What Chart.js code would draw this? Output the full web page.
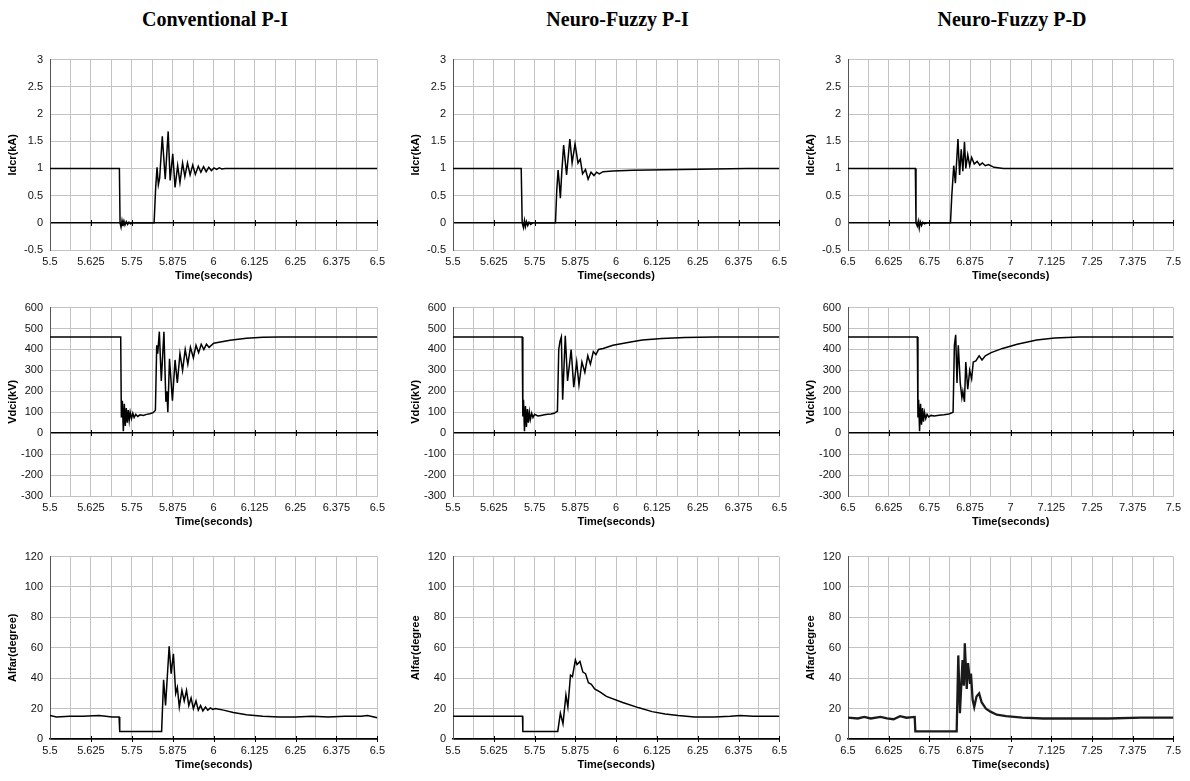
<!DOCTYPE html>
<html lang="en">
  <head>
    <meta charset="UTF-8" />
    <title>Idcr / Vdci / Alfar comparison</title>
    <script src="https://cdn.jsdelivr.net/npm/chart.js"></script>
    <style>
      body { margin: 0; background: #fff; width: 1190px; height: 781px; position: relative; overflow: hidden; }
      .colTitle { position: absolute; top: 8px; text-align: center; font: bold 20px "Liberation Serif", "Times New Roman", serif; color: #000; }
      canvas { position: absolute; }
    </style>
  </head>
  <body>
    <script>
      // column headings and axis labels
      const colTitles = ["Conventional P-I", "Neuro-Fuzzy P-I", "Neuro-Fuzzy P-D"];
      const timeLabelsA = ["5.5", "5.625", "5.75", "5.875", "6", "6.125", "6.25", "6.375", "6.5"];
      const timeLabelsB = ["6.5", "6.625", "6.75", "6.875", "7", "7.125", "7.25", "7.375", "7.5"];
      const idcrTicks = [-0.5, 0, 0.5, 1, 1.5, 2, 2.5, 3];
      const vdciTicks = [-300, -200, -100, 0, 100, 200, 300, 400, 500, 600];
      const alfarTicks = [0, 20, 40, 60, 80, 100, 120];

      // Conventional P-I
      const idcrConvT = [5.5, 5.712, 5.714, 5.717, 5.72, 5.723, 5.726, 5.729, 5.733, 5.737, 5.741, 5.746, 5.752, 5.818, 5.823, 5.827, 5.831, 5.835, 5.843, 5.852, 5.861, 5.867, 5.875, 5.882, 5.89, 5.897, 5.905, 5.912, 5.92, 5.928, 5.936, 5.944, 5.953, 5.961, 5.969, 5.977, 5.985, 5.993, 6.001, 6.009, 6.017, 6.025, 6.035, 6.5];
      const idcrConvV = [1, 1, 0, -0.08, 0.04, -0.06, 0.03, -0.04, 0.02, -0.03, 0.01, -0.02, 0, 0, 0.67, 1.02, 0.7, 0.82, 1.59, 0.8, 1.68, 0.78, 1.27, 0.65, 1.05, 0.74, 1.1, 0.85, 1.1, 0.88, 1.06, 0.89, 1.04, 0.93, 1.03, 0.94, 1.02, 0.96, 1.01, 0.98, 1.01, 0.99, 1, 1];
      const vdciConvT = [5.5, 5.716, 5.718, 5.721, 5.724, 5.727, 5.73, 5.733, 5.736, 5.739, 5.742, 5.745, 5.749, 5.753, 5.757, 5.762, 5.768, 5.775, 5.785, 5.795, 5.805, 5.815, 5.822, 5.826, 5.829, 5.834, 5.84, 5.848, 5.854, 5.857, 5.86, 5.865, 5.874, 5.882, 5.889, 5.897, 5.905, 5.913, 5.921, 5.929, 5.938, 5.946, 5.954, 5.962, 5.97, 5.978, 5.986, 6.0, 6.05, 6.1, 6.15, 6.2, 6.5];
      const vdciConvV = [460, 460, 75, 155, 10, 140, 35, 120, 50, 110, 60, 100, 70, 95, 75, 90, 80, 88, 85, 90, 93, 98, 110, 420, 380, 485, 250, 485, 150, 200, 100, 355, 155, 350, 240, 380, 300, 400, 330, 410, 360, 420, 385, 425, 400, 425, 410, 430, 444, 453, 458, 460, 460];
      const alfarConvT = [5.5, 5.52, 5.56, 5.6, 5.65, 5.69, 5.711, 5.713, 5.841, 5.847, 5.853, 5.864, 5.87, 5.877, 5.884, 5.889, 5.895, 5.903, 5.91, 5.917, 5.924, 5.931, 5.938, 5.946, 5.953, 5.96, 5.967, 5.975, 5.982, 5.99, 5.997, 6.005, 6.03, 6.06, 6.1, 6.15, 6.2, 6.25, 6.3, 6.35, 6.4, 6.45, 6.47, 6.5];
      const alfarConvV = [15.5, 14.5, 15, 15, 15.5, 14.5, 14.5, 5, 5, 39, 22, 61, 43, 56, 30, 34, 21, 32, 25, 32, 22, 27, 20, 25, 19, 22, 18.5, 21, 19, 20.5, 19.5, 20, 19, 17.5, 16, 15, 14.5, 14.5, 15, 14.5, 15, 15, 15.5, 14];

      // Neuro-Fuzzy P-I
      const idcrNfpiT = [5.5, 5.709, 5.712, 5.716, 5.719, 5.722, 5.725, 5.729, 5.733, 5.738, 5.744, 5.814, 5.818, 5.822, 5.826, 5.829, 5.833, 5.839, 5.848, 5.858, 5.865, 5.874, 5.883, 5.89, 5.897, 5.906, 5.914, 5.923, 5.932, 5.94, 5.948, 5.96, 5.99, 6.05, 6.1, 6.2, 6.3, 6.4, 6.5];
      const idcrNfpiV = [1, 1, 0, -0.09, 0.04, -0.07, 0.02, -0.05, 0.01, -0.03, 0, 0, 0.6, 0.97, 0.7, 0.45, 0.9, 1.43, 0.88, 1.54, 1.1, 1.45, 1.1, 1.17, 0.9, 0.98, 0.8, 0.93, 0.87, 0.93, 0.9, 0.94, 0.95, 0.965, 0.97, 0.98, 0.99, 1, 1];
      const vdciNfpiT = [5.5, 5.712, 5.714, 5.716, 5.719, 5.722, 5.725, 5.728, 5.731, 5.734, 5.737, 5.741, 5.745, 5.75, 5.76, 5.77, 5.78, 5.79, 5.8, 5.81, 5.82, 5.824, 5.828, 5.832, 5.836, 5.844, 5.851, 5.857, 5.862, 5.87, 5.879, 5.886, 5.895, 5.904, 5.913, 5.921, 5.93, 5.938, 5.946, 5.96, 5.99, 6.04, 6.08, 6.14, 6.21, 6.3, 6.5];
      const vdciNfpiV = [460, 460, 80, 160, 10, 130, 30, 115, 50, 100, 65, 95, 75, 90, 82, 85, 88, 90, 92, 95, 105, 400, 440, 460, 160, 465, 250, 330, 400, 220, 340, 230, 340, 290, 370, 330, 390, 375, 400, 405, 420, 435, 445, 452, 457, 460, 460];
      const alfarNfpiT = [5.5, 5.6, 5.713, 5.714, 5.821, 5.829, 5.837, 5.846, 5.852, 5.86, 5.866, 5.875, 5.88, 5.889, 5.898, 5.906, 5.915, 5.924, 5.934, 5.95, 5.97, 6.02, 6.07, 6.11, 6.15, 6.19, 6.24, 6.3, 6.35, 6.38, 6.42, 6.5];
      const alfarNfpiV = [15, 15, 15, 5, 5, 17, 10, 29, 21, 42, 41, 52, 49, 51, 44, 43, 37, 36, 33, 31, 28, 24, 20.5, 18, 16.5, 15.5, 14.5, 14.5, 15, 15.5, 15, 15];

      // Neuro-Fuzzy P-D
      const idcrNfpdT = [6.5, 6.707, 6.709, 6.713, 6.716, 6.719, 6.722, 6.726, 6.73, 6.735, 6.742, 6.815, 6.819, 6.825, 6.83, 6.838, 6.843, 6.848, 6.853, 6.858, 6.862, 6.868, 6.874, 6.88, 6.888, 6.897, 6.905, 6.913, 6.922, 6.932, 6.949, 6.978, 7.5];
      const idcrNfpdV = [1, 1, 0, -0.06, 0.03, -0.1, 0.02, -0.05, 0.01, -0.02, 0, 0, 0.5, 1.05, 0.73, 1.54, 0.88, 1.35, 0.95, 1.49, 1.0, 1.25, 1.05, 1.2, 1.08, 1.13, 1.06, 1.1, 1.05, 1.07, 1.02, 1, 1];
      const vdciNfpdT = [6.5, 6.713, 6.715, 6.717, 6.72, 6.723, 6.726, 6.729, 6.732, 6.735, 6.739, 6.743, 6.748, 6.755, 6.765, 6.78, 6.795, 6.81, 6.823, 6.827, 6.831, 6.835, 6.839, 6.845, 6.85, 6.853, 6.858, 6.862, 6.868, 6.874, 6.88, 6.885, 6.893, 6.903, 6.912, 6.922, 6.94, 6.975, 7.02, 7.08, 7.135, 7.21, 7.5];
      const vdciNfpdV = [460, 460, 75, 160, 10, 140, 40, 120, 55, 100, 70, 90, 78, 85, 82, 86, 88, 92, 100, 420, 470, 240, 420, 240, 170, 200, 150, 340, 210, 300, 260, 340, 345, 370, 350, 370, 385, 405, 425, 445, 455, 460, 460];
      const alfarNfpdT = [6.5, 6.53, 6.55, 6.57, 6.6, 6.62, 6.64, 6.66, 6.68, 6.705, 6.707, 6.834, 6.839, 6.844, 6.852, 6.856, 6.859, 6.865, 6.869, 6.875, 6.878, 6.883, 6.888, 6.895, 6.903, 6.911, 6.924, 6.938, 6.957, 6.986, 7.036, 7.1, 7.2, 7.3, 7.4, 7.5];
      const alfarNfpdV = [14, 13.5, 14.5, 13.5, 14.5, 13.5, 13, 15, 14, 14.5, 5, 5, 55, 17, 52, 35, 63, 33, 50, 37, 43, 26, 21, 28, 30, 24, 20, 18, 16, 15, 14, 13.5, 13.5, 13.5, 14, 14];

      // page layout (plot area of each cell)
      const colLeft = [50, 453, 848];
      const colWidth = [330, 329, 328];
      const rowTop = [56, 304, 553];
      const rowHeight = [194, 192, 186];
      const AXIS_W = 50, PAD_T = 10, PAD_R = 10, XAXIS_H = 36;

      const panels = [
        { col: 0, row: 0, t: idcrConvT, v: idcrConvV, xl: timeLabelsA, yt: idcrTicks, yTitle: "Idcr(kA)" },
        { col: 0, row: 1, t: vdciConvT, v: vdciConvV, xl: timeLabelsA, yt: vdciTicks, yTitle: "Vdci(kV)" },
        { col: 0, row: 2, t: alfarConvT, v: alfarConvV, xl: timeLabelsA, yt: alfarTicks, yTitle: "Alfar(degree)" },
        { col: 1, row: 0, t: idcrNfpiT, v: idcrNfpiV, xl: timeLabelsA, yt: idcrTicks, yTitle: "Idcr(kA)" },
        { col: 1, row: 1, t: vdciNfpiT, v: vdciNfpiV, xl: timeLabelsA, yt: vdciTicks, yTitle: "Vdci(kV)" },
        { col: 1, row: 2, t: alfarNfpiT, v: alfarNfpiV, xl: timeLabelsA, yt: alfarTicks, yTitle: "Alfar(degree" },
        { col: 2, row: 0, t: idcrNfpdT, v: idcrNfpdV, xl: timeLabelsB, yt: idcrTicks, yTitle: "Idcr(kA)" },
        { col: 2, row: 1, t: vdciNfpdT, v: vdciNfpdV, xl: timeLabelsB, yt: vdciTicks, yTitle: "Vdci(kV)" },
        { col: 2, row: 2, t: alfarNfpdT, v: alfarNfpdV, xl: timeLabelsB, yt: alfarTicks, yTitle: "Alfar(degree", thick: true },
      ];

      const GRID = "#c3c3c3";
      const sans = "'Liberation Sans', Arial, sans-serif";

      // small tick marks sitting on the zero line, like the original spreadsheet axis
      const zeroTicks = {
        id: "zeroTicks",
        beforeDatasetsDraw(chart) {
          const { ctx, scales: { x, y } } = chart;
          const y0 = Math.round(y.getPixelForValue(0));
          ctx.save();
          ctx.strokeStyle = "#000";
          ctx.lineWidth = 1;
          x.ticks.forEach((t, i) => {
            if (i % 2 !== 0 || i === 0) return;
            const px = Math.round(x.getPixelForValue(t.value)) + 0.5;
            ctx.beginPath();
            ctx.moveTo(px, y0 - 3);
            ctx.lineTo(px, y0 + 3);
            ctx.stroke();
          });
          ctx.restore();
        },
      };

      colTitles.forEach((txt, c) => {
        const d = document.createElement("div");
        d.className = "colTitle";
        d.style.left = colLeft[c] + "px";
        d.style.width = colWidth[c] + "px";
        d.textContent = txt;
        document.body.appendChild(d);
      });

      function drawPanel(p) {
        const w = AXIS_W + colWidth[p.col] + PAD_R;
        const h = PAD_T + rowHeight[p.row] + XAXIS_H;
        const cv = document.createElement("canvas");
        cv.width = w;
        cv.height = h;
        cv.style.left = colLeft[p.col] - AXIS_W + "px";
        cv.style.top = rowTop[p.row] - PAD_T + "px";
        cv.style.width = w + "px";
        cv.style.height = h + "px";
        document.body.appendChild(cv);

        const xVals = p.xl.map(Number);
        const xGrid = [];
        xVals.forEach((v, i) => {
          xGrid.push(v);
          if (i < xVals.length - 1) xGrid.push((v + xVals[i + 1]) / 2);
        });
        const bottomIsZero = p.yt[0] === 0;

        new Chart(cv.getContext("2d"), {
          type: "line",
          data: {
            datasets: [
              {
                data: p.t.map((t, i) => ({ x: t, y: p.v[i] })),
                borderColor: p.thick ? "#1a1a1a" : "#000",
                borderWidth: p.thick ? 2.3 : 1.5,
                pointRadius: 0,
                fill: false,
                tension: 0,
              },
            ],
          },
          options: {
            responsive: false,
            animation: false,
            devicePixelRatio: 1,
            layout: { padding: { top: PAD_T, right: PAD_R, left: 0, bottom: 0 } },
            plugins: { legend: { display: false }, tooltip: { enabled: false } },
            scales: {
              x: {
                type: "linear",
                min: xVals[0],
                max: xVals[xVals.length - 1],
                afterBuildTicks: (s) => { s.ticks = xGrid.map((v) => ({ value: v })); },
                afterFit: (s) => { s.height = XAXIS_H; },
                ticks: {
                  autoSkip: false,
                  maxRotation: 0,
                  padding: 5,
                  color: "#111",
                  font: { family: sans, size: 11 },
                  callback: (v, i) => (i % 2 === 0 ? p.xl[i / 2] : ""),
                },
                grid: { color: GRID, lineWidth: 1, drawTicks: false },
                border: { color: bottomIsZero ? "#000" : GRID, width: bottomIsZero ? 1.5 : 1 },
                title: {
                  display: true,
                  text: "Time(seconds)",
                  color: "#000",
                  padding: { top: 0, bottom: 3 },
                  font: { family: sans, size: 11, weight: "bold" },
                },
              },
              y: {
                min: p.yt[0],
                max: p.yt[p.yt.length - 1],
                afterBuildTicks: (s) => { s.ticks = p.yt.map((v) => ({ value: v })); },
                afterFit: (s) => { s.width = AXIS_W; },
                ticks: {
                  padding: 7,
                  color: "#111",
                  font: { family: sans, size: 11 },
                  callback: (v) => String(v),
                },
                grid: {
                  drawTicks: false,
                  color: (ctx) => (ctx.tick && ctx.tick.value === 0 ? "#000" : GRID),
                  lineWidth: (ctx) => (ctx.tick && ctx.tick.value === 0 ? 1.5 : 1),
                },
                border: { color: "#555", width: 1 },
                title: {
                  display: true,
                  text: p.yTitle,
                  color: "#000",
                  padding: { top: 6, bottom: 0 },
                  font: { family: sans, size: 11, weight: "bold" },
                },
              },
            },
          },
          plugins: [zeroTicks],
        });
      }

      panels.forEach(drawPanel);
    </script>
  </body>
</html>
